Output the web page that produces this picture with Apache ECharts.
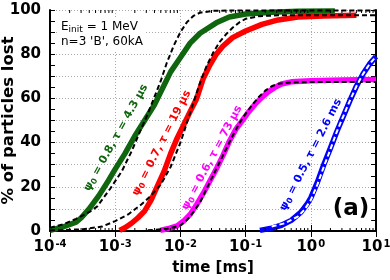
<!DOCTYPE html>
<html><head><meta charset="utf-8">
<style>html,body{margin:0;padding:0;background:#fff}#c{width:390px;height:280px}</style>
<script src="https://cdn.jsdelivr.net/npm/echarts@6/dist/echarts.min.js"></script>
</head><body><div id="c"></div>
<script>
// ---- data (time in ms, % lost) ----
const greenT = [1.00e-4,1.58e-4,2.51e-4,3.02e-4,3.98e-4,5.62e-4,7.94e-4,1.00e-3,1.41e-3,2.00e-3,2.82e-3,3.98e-3,5.01e-3,7.08e-3,1.00e-2,1.41e-2,2.00e-2,3.55e-2,5.62e-2,0.1,0.251,0.631,2.34];
const greenY = [0.3,1.8,4.0,6.0,10,16,23,28,35,43,50,57,63,72,78.5,85,89.5,94.2,96.8,98.2,99.0,99.4,99.6];
const greenFitT = [1.00e-4,1.58e-4,2.51e-4,3.98e-4,5.25e-4,8.32e-4,1.26e-3,1.78e-3,2.40e-3,3.16e-3,3.80e-3,5.01e-3,6.17e-3,7.94e-3,1.00e-2,1.26e-2,1.58e-2,2.00e-2,3.16e-2,6.31e-2,10];
const greenFitY = [1.5,3,5.5,8.5,11,19,27,36,45,53,59,68,76,84,90,94.5,97.3,98.8,99.6,99.8,99.8];

const redT = [1.17e-3,1.41e-3,1.78e-3,2.24e-3,2.82e-3,3.55e-3,4.47e-3,5.62e-3,7.08e-3,8.91e-3,1.12e-2,1.41e-2,1.78e-2,2.24e-2,2.82e-2,3.55e-2,4.47e-2,6.31e-2,0.1,0.178,0.316,0.631,1.58,5.01];
const redY = [0.3,1.5,3.5,6,9,14,20.5,27,35,42,48,54,60,69,75,80,83.6,87.5,90.5,93.5,95.5,96.8,97.3,97.6];
const redFitT = [1.00e-4,3.16e-4,6.31e-4,1.00e-3,1.58e-3,2.51e-3,3.55e-3,5.01e-3,7.08e-3,1.00e-2,1.26e-2,1.58e-2,2.00e-2,2.51e-2,3.16e-2,3.98e-2,5.01e-2,6.31e-2,7.94e-2,0.1,0.158,0.316,10];
const redFitY = [0.2,0.8,2.0,4.5,7.5,12,16,21,29,40,49,58,67,74.5,80.5,85.5,89,92,94.3,96,97.2,97.6,97.6];

const magT = [4.90e-3,6.31e-3,8.91e-3,1.12e-2,1.41e-2,1.78e-2,2.24e-2,2.82e-2,3.55e-2,4.47e-2,5.62e-2,7.08e-2,8.91e-2,0.112,0.141,0.178,0.224,0.282,0.355,0.501,1,3.16,10];
const magY = [0.3,1.0,2.3,4.5,7.5,12,17,22.5,28,34,40.5,46,50,54,57.5,60.5,63,65,66.5,67.5,68,68.3,68.5];
const magFitT = [3.16e-3,6.31e-3,1.00e-2,1.26e-2,1.58e-2,2.00e-2,2.51e-2,3.16e-2,3.98e-2,5.01e-2,6.31e-2,7.94e-2,0.1,0.126,0.158,0.2,0.251,0.316,0.501,1,10];
const magFitY = [0.3,1.0,2.5,5,8.5,13,19,25,31,37,43,48.5,53,57,60.5,63.5,65.5,66.6,67.2,67.4,67.4];

const blueT = [0.166,0.251,0.355,0.501,0.708,0.891,1,1.26,1.58,2.0,2.51,3.16,3.98,5.01,6.31,7.94,10];
const blueY = [0.3,1.3,2.6,4.8,8.5,12.5,15,22,30,37.5,45,52,59,65.5,71,75.5,79];
const blueFitT = [0.251,0.398,0.631,0.794,1,1.26,1.58,2.0,2.51,3.16,3.98,5.01,6.31,7.94,10];
const blueFitY = [2.0,3.5,6.5,9.5,14,21,29,37,45,52,59,65.5,71,75.5,79];

const xTickValues = [1e-4,1e-3,1e-2,1e-1,1,10];
const xTickExponents = ['-4','-3','-2','-1','0','1'];
const yTickLabels = [0,20,40,60,80,100];

const annotations = [
  {psi:'0.8', tau:'4.3 μs', t:1.03e-3, y:42.2, rot:61, color:'#0f660f'},
  {psi:'0.7', tau:'19 μs', t:5.16e-3, y:39.8, rot:63, color:'#ff0000'},
  {psi:'0.6', tau:'73 μs', t:3.05e-2, y:33.1, rot:62, color:'#ff00ff'},
  {psi:'0.5', tau:'2.6 ms', t:1.0, y:34.5, rot:63, color:'#0000ff'}
];

// ---- chart ----
const FONT = 'DejaVu Sans';
const pairs = (t, y) => t.map((v, i) => [v, y[i]]);
const minorX = [];
for (let e = -4; e < 1; e++) for (let m = 2; m <= 9; m++) minorX.push(+(m * Math.pow(10, e)).toPrecision(3));

const chart = echarts.init(document.getElementById('c'), null, {renderer: 'canvas'});
const gridLine = {show: true, lineStyle: {color: '#aaaaaa', width: 1, type: [1, 2]}};
const lineSeries = (data, color, width, dashed, z) => ({
  type: 'line', data, showSymbol: false, symbol: 'none', silent: true, z,
  lineStyle: {color, width, type: dashed ? [5, 3] : 'solid', cap: 'butt', join: 'round'},
  animation: false
});

chart.setOption({
  animation: false,
  grid: {left: 50, right: 14, top: 10, bottom: 49, containLabel: false, outerBoundsMode: 'none'},
  xAxis: [{
    type: 'log', logBase: 10, min: 1e-4, max: 10,
    name: 'time [ms]', nameLocation: 'middle', nameGap: 30, nameMoveOverlap: false,
    nameTextStyle: {fontFamily: FONT, fontWeight: 'bold', fontSize: 15, color: '#000'},
    axisLine: {show: true, lineStyle: {color: '#000', width: 2}},
    axisTick: {show: true, inside: true, length: 6, lineStyle: {color: '#000', width: 1}},
    splitLine: gridLine,
    axisLabel: {
      margin: 8,
      formatter: v => {
        const i = xTickValues.findIndex(x => Math.abs(Math.log10(x) - Math.log10(v)) < 1e-6);
        return i < 0 ? '' : '{b|10}{s|' + xTickExponents[i] + '}';
      },
      rich: {
        b: {fontFamily: FONT, fontWeight: 'bold', fontSize: 15, color: '#000', lineHeight: 16},
        s: {fontFamily: FONT, fontWeight: 'bold', fontSize: 10, color: '#000', verticalAlign: 'top', lineHeight: 10, padding: [0, 0, 0, 1]}
      }
    }
  }, {
    type: 'log', logBase: 10, min: 1e-4, max: 10, position: 'top',
    axisLine: {show: true, lineStyle: {color: '#000', width: 2}},
    axisTick: {show: true, inside: true, length: 6, lineStyle: {color: '#000', width: 1}},
    axisLabel: {show: false}, splitLine: {show: false}
  }],
  yAxis: [{
    type: 'value', min: 0, max: 100, interval: 10,
    name: '% of particles lost', nameLocation: 'middle', nameGap: 33, nameMoveOverlap: false,
    nameRotate: 90,
    nameTextStyle: {fontFamily: FONT, fontWeight: 'bold', fontSize: 16.5, color: '#000'},
    axisLine: {show: true, lineStyle: {color: '#000', width: 2}},
    axisTick: {show: true, inside: true, length: 5, lineStyle: {color: '#000', width: 1}},
    minorTick: {show: true, splitNumber: 2, length: 5, lineStyle: {color: '#000', width: 1}},
    splitLine: gridLine,
    axisLabel: {
      margin: 9, fontFamily: FONT, fontWeight: 'bold', fontSize: 15, color: '#000',
      formatter: v => yTickLabels.includes(v) ? String(v) : ''
    }
  }, {
    type: 'value', min: 0, max: 100, interval: 10, position: 'right',
    axisLine: {show: true, lineStyle: {color: '#000', width: 2}},
    axisTick: {show: true, inside: true, length: 5, lineStyle: {color: '#000', width: 1}},
    minorTick: {show: true, splitNumber: 2, length: 5, lineStyle: {color: '#000', width: 1}},
    axisLabel: {show: false}, splitLine: {show: false}
  }],
  series: [
    lineSeries(pairs(greenT, greenY), '#0f660f', 5.5, false, 2),
    lineSeries(pairs(redT, redY), '#ff0000', 5.5, false, 2),
    lineSeries(pairs(magT, magY), '#ff00ff', 5.5, false, 2),
    lineSeries(pairs(blueT, blueY), '#0000ff', 5.5, false, 2),
    lineSeries(pairs(greenFitT, greenFitY), '#000', 2, true, 3),
    lineSeries(pairs(redFitT, redFitY), '#000', 2, true, 3),
    lineSeries(pairs(magFitT, magFitY), '#000', 2, true, 3),
    lineSeries(pairs(blueFitT, blueFitY), '#ffffff', 2, true, 3),
    {
      type: 'custom', coordinateSystem: 'cartesian2d', silent: true, clip: false, z: 10,
      data: minorX.map(v => [v, 0]),
      renderItem: (params, api) => {
        const p = api.coord([api.value(0), 0]);
        const q = api.coord([api.value(0), 100]);
        return {type: 'group', children: [
          {type: 'line', shape: {x1: p[0], y1: p[1], x2: p[0], y2: p[1] - 3}, style: {stroke: '#000', lineWidth: 1}},
          {type: 'line', shape: {x1: q[0], y1: q[1], x2: q[0], y2: q[1] + 3}, style: {stroke: '#000', lineWidth: 1}}
        ]};
      }
    }
  ]
});

const graphics = annotations.map(a => {
  const p = chart.convertToPixel({gridIndex: 0}, [a.t, a.y]);
  return {
    type: 'text', x: p[0], y: p[1], rotation: a.rot * Math.PI / 180, z: 20,
    style: {
      text: '{n|ψ}{sub|0}{n| = ' + a.psi + ', τ = ' + a.tau + '}',
      align: 'center', verticalAlign: 'middle',
      rich: {
        n: {fontFamily: FONT, fontWeight: 'bold', fontSize: 11, fill: a.color, lineHeight: 13},
        sub: {fontFamily: FONT, fontWeight: 'bold', fontSize: 8, fill: a.color, verticalAlign: 'bottom', lineHeight: 10}
      }
    }
  };
});
graphics.push({
  type: 'text', x: 59, y: 19, z: 20,
  style: {
    text: '{a|E}{sub|init}{a| = 1 MeV}\n{a|n=3 \'B\', 60kA}',
    align: 'left', verticalAlign: 'top', backgroundColor: '#fff', padding: [1, 2, 1, 2],
    rich: {
      a: {fontFamily: FONT, fontSize: 12, fill: '#000', lineHeight: 14.5},
      sub: {fontFamily: FONT, fontSize: 9, fill: '#000', verticalAlign: 'bottom', lineHeight: 12}
    }
  }
});
graphics.push({
  type: 'text', x: 351, y: 209, z: 20,
  style: {
    text: '(a)', align: 'center', verticalAlign: 'middle',
    fontFamily: FONT, fontWeight: 'bold', fontSize: 23, fill: '#000',
    backgroundColor: '#fff', padding: [0, 2, 0, 2]
  }
});
chart.setOption({graphic: graphics});
</script>
</body></html>
